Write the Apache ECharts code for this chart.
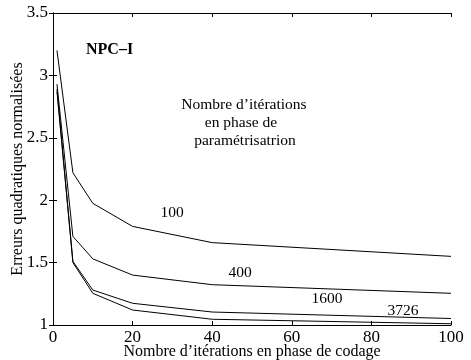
<!DOCTYPE html>
<html>
<head>
<meta charset="utf-8">
<script src="https://cdn.jsdelivr.net/npm/echarts@6/dist/echarts.min.js"></script>
<style>
  html, body { margin: 0; padding: 0; background: #fff; }
  #chart { width: 471px; height: 360px; }
</style>
</head>
<body>
<div id="chart"></div>
<script>
// iterations en phase de codage
const codingIters = [1, 5, 10, 20, 40, 100];
// erreurs normalisées, une série par nombre d'itérations de paramétrisation
const err100 = [3.2, 2.22, 1.975, 1.79, 1.66, 1.55];
const err400 = [2.93, 1.71, 1.53, 1.40, 1.323, 1.254];
const err1600 = [2.89, 1.51, 1.28, 1.174, 1.104, 1.052];
const err3726 = [2.87, 1.50, 1.254, 1.12, 1.046, 1.01];
const curveNames = ['100', '400', '1600', '3726'];

const FONT = '"Liberation Serif", "DejaVu Serif", serif';
const chart = echarts.init(document.getElementById('chart'));

const toPairs = (ys) => codingIters.map((x, i) => [x, ys[i]]);

const axisBase = {
  type: 'value',
  axisLine: { show: true, lineStyle: { color: '#000', width: 1 } },
  axisTick: { show: true, inside: true, length: 4, lineStyle: { color: '#000' } },
  splitLine: { show: false },
  nameMoveOverlap: false,
};

const series = [err100, err400, err1600, err3726].map((ys, i) => ({
  name: curveNames[i],
  type: 'line',
  data: toPairs(ys),
  symbol: 'none',
  lineStyle: { color: '#000', width: 1 },
  silent: true,
  animation: false,
}));

const txt = (text, x, y, extra) => ({
  type: 'text',
  x: x, y: y,
  style: Object.assign({
    text: text,
    font: '15.5px ' + FONT,
    fill: '#000',
    align: 'center',
    verticalAlign: 'middle',
  }, extra || {})
});

chart.setOption({
  animation: false,
  backgroundColor: '#fff',
  grid: { left: 53, right: 20, top: 13, bottom: 35, outerBoundsMode: 'none', containLabel: false },
  xAxis: [
    Object.assign({}, axisBase, {
      min: 0, max: 100, interval: 20,
      name: 'Nombre d’itérations en phase de codage',
      nameLocation: 'middle',
      nameGap: 19,
      nameTextStyle: { fontFamily: FONT, fontSize: 16, color: '#000' },
      axisLabel: { fontFamily: FONT, fontSize: 17, color: '#000', margin: 4 },
    }),
    Object.assign({}, axisBase, {
      position: 'top', min: 0, max: 100, interval: 20,
      axisLabel: { show: false },
    }),
  ],
  yAxis: [
    Object.assign({}, axisBase, {
      min: 1, max: 3.5, interval: 0.5,
      name: 'Erreurs quadratiques normalisées',
      nameLocation: 'middle',
      nameGap: 27,
      nameTextStyle: { fontFamily: FONT, fontSize: 16, color: '#000' },
      axisLabel: { fontFamily: FONT, fontSize: 17, color: '#000', margin: 5 },
    }),
    Object.assign({}, axisBase, {
      position: 'right', min: 1, max: 3.5, interval: 0.5,
      axisLabel: { show: false },
    }),
  ],
  series: series,
  graphic: [
    txt('NPC–I', 86, 50, { align: 'left', font: 'bold 16px ' + FONT }),
    txt('Nombre d’itérations', 244, 105),
    txt('en phase de', 241, 123),
    txt('paramétrisatrion', 245, 141),
    txt(curveNames[0], 172, 213),
    txt(curveNames[1], 240, 273),
    txt(curveNames[2], 327, 299),
    txt(curveNames[3], 403, 311),
  ],
});
</script>
</body>
</html>
